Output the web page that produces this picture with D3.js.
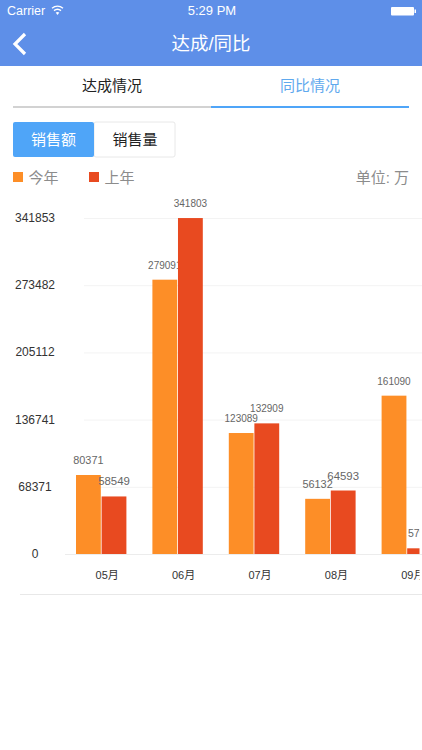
<!DOCTYPE html>
<html><head><meta charset="utf-8">
<script src="https://cdn.jsdelivr.net/npm/d3@7/dist/d3.min.js"></script>
<style>html,body{margin:0;padding:0;background:#fff;overflow:hidden}svg{display:block}
text{font-family:"Liberation Sans","Noto Sans CJK SC",sans-serif}</style></head>
<body><svg id="c" width="422" height="750"></svg>
<script>
const months=["05月","06月","07月","08月","09月"];
const seriesNames=["今年","上年"];
const thisYear=[80371,279091,123089,56132,161090];
const lastYear=[58549,341803,132909,64593,5792];
const yTicks=[0,68371,136741,205112,273482,341853];
const labelSizes=[[10.9,10,10,10.9,10],[11.4,10,10,11.4,10.5]];
const orange="#FD8E27",red="#E84A20",blue="#4FA5F8",head="#5E8FE8";
const svg=d3.select("#c");
const T=(x,y,s,size,fill,anchor="start",g=svg)=>g.append("text").attr("x",x).attr("y",y).attr("font-size",size).attr("fill",fill).attr("text-anchor",anchor).text(s);
// header
svg.append("rect").attr("width",422).attr("height",66).attr("fill",head);
T(7,15,"Carrier",12.5,"#fff");
T(212,15,"5:29 PM",13,"#fff","middle");
const wifi=svg.append("g").attr("fill","none").attr("stroke","#fff").attr("stroke-width",1.4);
wifi.append("path").attr("d","M52 8.2a9 9 0 0 1 11 0");
wifi.append("path").attr("d","M54 10.6a5.5 5.5 0 0 1 7 0");
svg.append("path").attr("d","M55.7 12.6L57.5 15L59.3 12.6a3 3 0 0 0-3.6 0z").attr("fill","#fff");
svg.append("rect").attr("x",391).attr("y",7).attr("width",23).attr("height",8.5).attr("rx",1).attr("fill","#fff");
svg.append("rect").attr("x",414.5).attr("y",9.5).attr("width",1.5).attr("height",3.5).attr("fill","#fff");
svg.append("path").attr("d","M25 34L15 44L25 54").attr("fill","none").attr("stroke","#fff").attr("stroke-width",3.2);
T(211,50,"达成/同比",18.5,"#fff","middle");
// tabs
T(112,91,"达成情况",15,"#222","middle");
T(310,91,"同比情况",15,"#5FA9EE","middle");
svg.append("rect").attr("x",13).attr("y",106).attr("width",198).attr("height",2).attr("fill","#d2d2d2");
svg.append("rect").attr("x",211).attr("y",106).attr("width",198).attr("height",2).attr("fill",blue);
// segmented buttons
svg.append("rect").attr("x",94).attr("y",122).attr("width",81).attr("height",35).attr("rx",2).attr("fill","#fff").attr("stroke","#e8e8e8");
svg.append("rect").attr("x",13).attr("y",122).attr("width",81).attr("height",35).attr("rx",2).attr("fill",blue);
T(53.5,145,"销售额",15,"#fff","middle");
T(135,145,"销售量",15,"#222","middle");
// legend
const legendColor=d3.scaleOrdinal().domain(seriesNames).range([orange,red]);
const legendX=d3.scaleOrdinal().domain(seriesNames).range([13,89]);
seriesNames.forEach(s=>{
  svg.append("rect").attr("x",legendX(s)).attr("y",172).attr("width",10).attr("height",10).attr("fill",legendColor(s));
  T(legendX(s)+15.5,183,s,15,"#8c8c8c");
});
T(409,183,"单位: 万",15,"#8c8c8c","end");
// chart
const y=d3.scaleLinear().domain([0,341853]).range([554,218]);
const x0=d3.scaleBand().domain(months).range([63,445]);
const x1=d3.scaleBand().domain(seriesNames).range([13,63.4]).paddingInner(0.03);
const defs=svg.append("defs");
defs.append("clipPath").attr("id","plot").append("rect").attr("x",0).attr("y",190).attr("width",419.5).attr("height",420);
const grid=svg.append("g");
yTicks.forEach(t=>{
  grid.append("line").attr("x1",t===0?65:84).attr("x2",422).attr("y1",y(t)+.5).attr("y2",y(t)+.5).attr("stroke",t===0?"#ececec":"#f3f3f3");
  T(35,y(t)+4,t,12,"#333","middle");
});
const chart=svg.append("g").attr("clip-path","url(#plot)");
svg.append("line").attr("x1",20).attr("x2",422).attr("y1",594.5).attr("y2",594.5).attr("stroke","#e8e8e8");
months.forEach((m,i)=>{
  [thisYear,lastYear].forEach((vals,k)=>{
    const s=seriesNames[k],bx=x0(m)+x1(s),w=x1.bandwidth();
    chart.append("rect").attr("x",bx).attr("y",y(vals[i])).attr("width",w).attr("height",y(0)-y(vals[i])).attr("fill",legendColor(s));
    T(bx+w/2,y(vals[i])-11,vals[i],labelSizes[k][i],"#666","middle",chart);
  });
  T(x0(m)+x0.bandwidth()/2+6,578.5,m,11,"#333","middle",chart);
});
</script></body></html>
